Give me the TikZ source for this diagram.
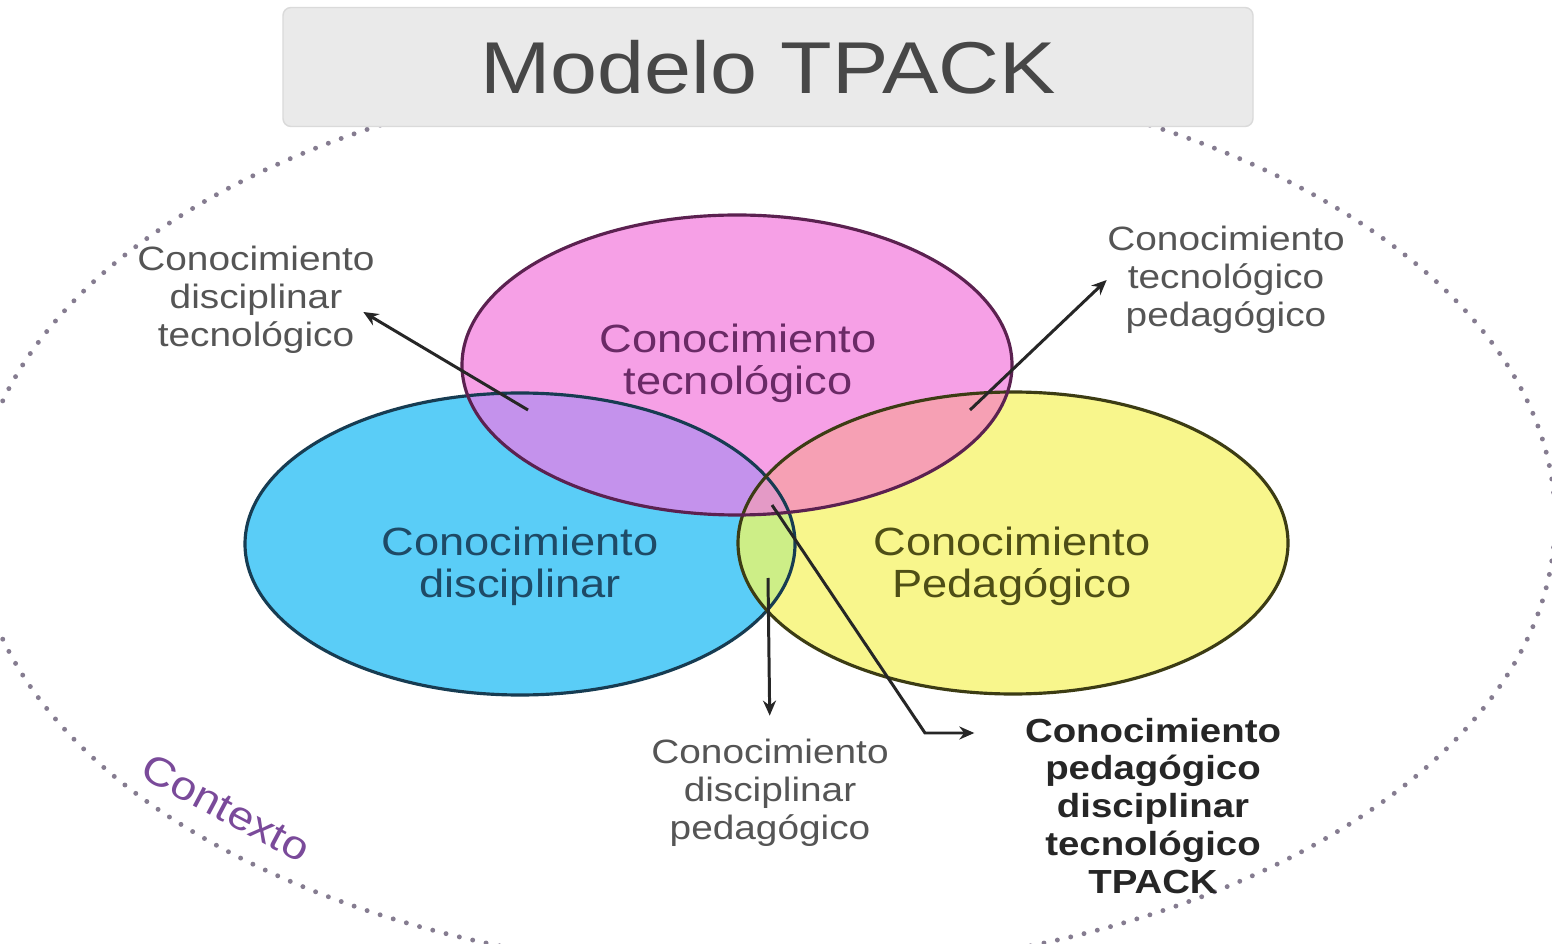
\documentclass[tikz,border=0pt]{standalone}
\usepackage{fontspec}
\setmainfont{Liberation Sans}[FakeStretch=1.15]
\usetikzlibrary{arrows.meta, positioning}

\definecolor{tecfill}{HTML}{F6A0E6}
\definecolor{disfill}{HTML}{5ACDF7}
\definecolor{pedfill}{HTML}{F8F68C}
\definecolor{tdfill}{HTML}{C492EC}
\definecolor{tpfill}{HTML}{F6A0B4}
\definecolor{dpfill}{HTML}{CDEE87}
\definecolor{tdpfill}{HTML}{E49AC6}
\definecolor{tecline}{HTML}{5B2150}
\definecolor{disline}{HTML}{173C52}
\definecolor{pedline}{HTML}{3C3C14}
\definecolor{tectext}{HTML}{6A2A66}
\definecolor{distext}{HTML}{1E4A66}
\definecolor{pedtext}{HTML}{4E4E16}
\definecolor{labelgray}{HTML}{555555}
\definecolor{ctxline}{HTML}{857C90}
\definecolor{ctxtext}{HTML}{7A4A9A}
\definecolor{boxfill}{HTML}{EAEAEA}
\definecolor{boxline}{HTML}{DADADA}

\begin{document}
\begin{tikzpicture}[
  x=0.1mm, y=-0.1mm,
  titlebox/.style={draw=boxline, fill=boxfill, rounded corners=0.8mm,
                   minimum width=97mm, minimum height=11.9mm, text=black!72,
                   font=\fontsize{20.9}{24}\selectfont},
  area/.style={align=center, inner sep=0pt, font=\fontsize{11.2}{12}\selectfont},
  side/.style={align=center, inner sep=0pt, text=labelgray,
               font=\fontsize{9.6}{10.8}\selectfont},
  ring/.style={line width=0.9pt},
  >={Stealth[length=1.5mm, width=1.3mm]}
]
\fill[white] (0,0) rectangle (1552,944);
\useasboundingbox (0,0) rectangle (1552,944);

\draw[ctxline, line width=1.4pt, line cap=round, dash pattern=on 0pt off 3.9pt]
  (765,520) ellipse [x radius=790, y radius=452];
\node[titlebox] (titulo) at (768,67) {Modelo TPACK};

\fill[disfill] (520,544) ellipse [x radius=275, y radius=151];
\fill[pedfill] (1013,543) ellipse [x radius=275, y radius=151];
\fill[tecfill] (737,365) ellipse [x radius=275, y radius=150];
\begin{scope}
  \clip (737,365) ellipse [x radius=275, y radius=150];
  \fill[tdfill] (520,544) ellipse [x radius=275, y radius=151];
  \fill[tpfill] (1013,543) ellipse [x radius=275, y radius=151];
\end{scope}
\begin{scope}
  \clip (520,544) ellipse [x radius=275, y radius=151];
  \fill[dpfill] (1013,543) ellipse [x radius=275, y radius=151];
  \clip (737,365) ellipse [x radius=275, y radius=150];
  \fill[tdpfill] (1013,543) ellipse [x radius=275, y radius=151];
\end{scope}
\draw[ring, disline] (520,544) ellipse [x radius=275, y radius=151];
\draw[ring, pedline] (1013,543) ellipse [x radius=275, y radius=151];
\draw[ring, tecline] (737,365) ellipse [x radius=275, y radius=150];

\node[area, text=tectext] (tec) at (738,363) {Conocimiento\\tecnológico};
\node[area, text=distext] (dis) at (520,566) {Conocimiento\\disciplinar};
\node[area, text=pedtext] (ped) at (1012,566) {Conocimiento\\Pedagógico};

\node[side] (dt) at (256,300) {Conocimiento\\disciplinar\\tecnológico};
\node[side] (tp) at (1226,280) {Conocimiento\\tecnológico\\pedagógico};
\node[side] (dp) at (770,793) {Conocimiento\\disciplinar\\pedagógico};
\node[side, text=black!85, font=\bfseries\fontsize{9.5}{10.8}\selectfont]
  (tpack) at (1153,806) {Conocimiento\\pedagógico\\disciplinar\\tecnológico\\TPACK};
\node[rotate=-28, text=ctxtext, font=\fontsize{11.4}{13}\selectfont] (ctx) at (226,808) {Contexto};

\coordinate (dtsrc) at (528,410);
\coordinate (tpsrc) at (970,410);
\coordinate (dpsrc) at (768,578);
\coordinate (tpacksrc) at (772,505);
\coordinate (codo) at (925,733);

\draw[->, line width=0.85pt, black!85] (dtsrc) -- ([xshift=-1.2mm, yshift=-1.2mm]dt.east);
\draw[->, line width=0.85pt, black!85] (tpsrc) -- (tp.west);
\draw[->, line width=0.85pt, black!85, shorten >=2.3mm] (dpsrc) -- (dp.north);
\draw[->, line width=0.85pt, black!85, shorten >=5mm] (tpacksrc) -- (codo) -- (codo -| tpack.west);
\end{tikzpicture}
\end{document}
